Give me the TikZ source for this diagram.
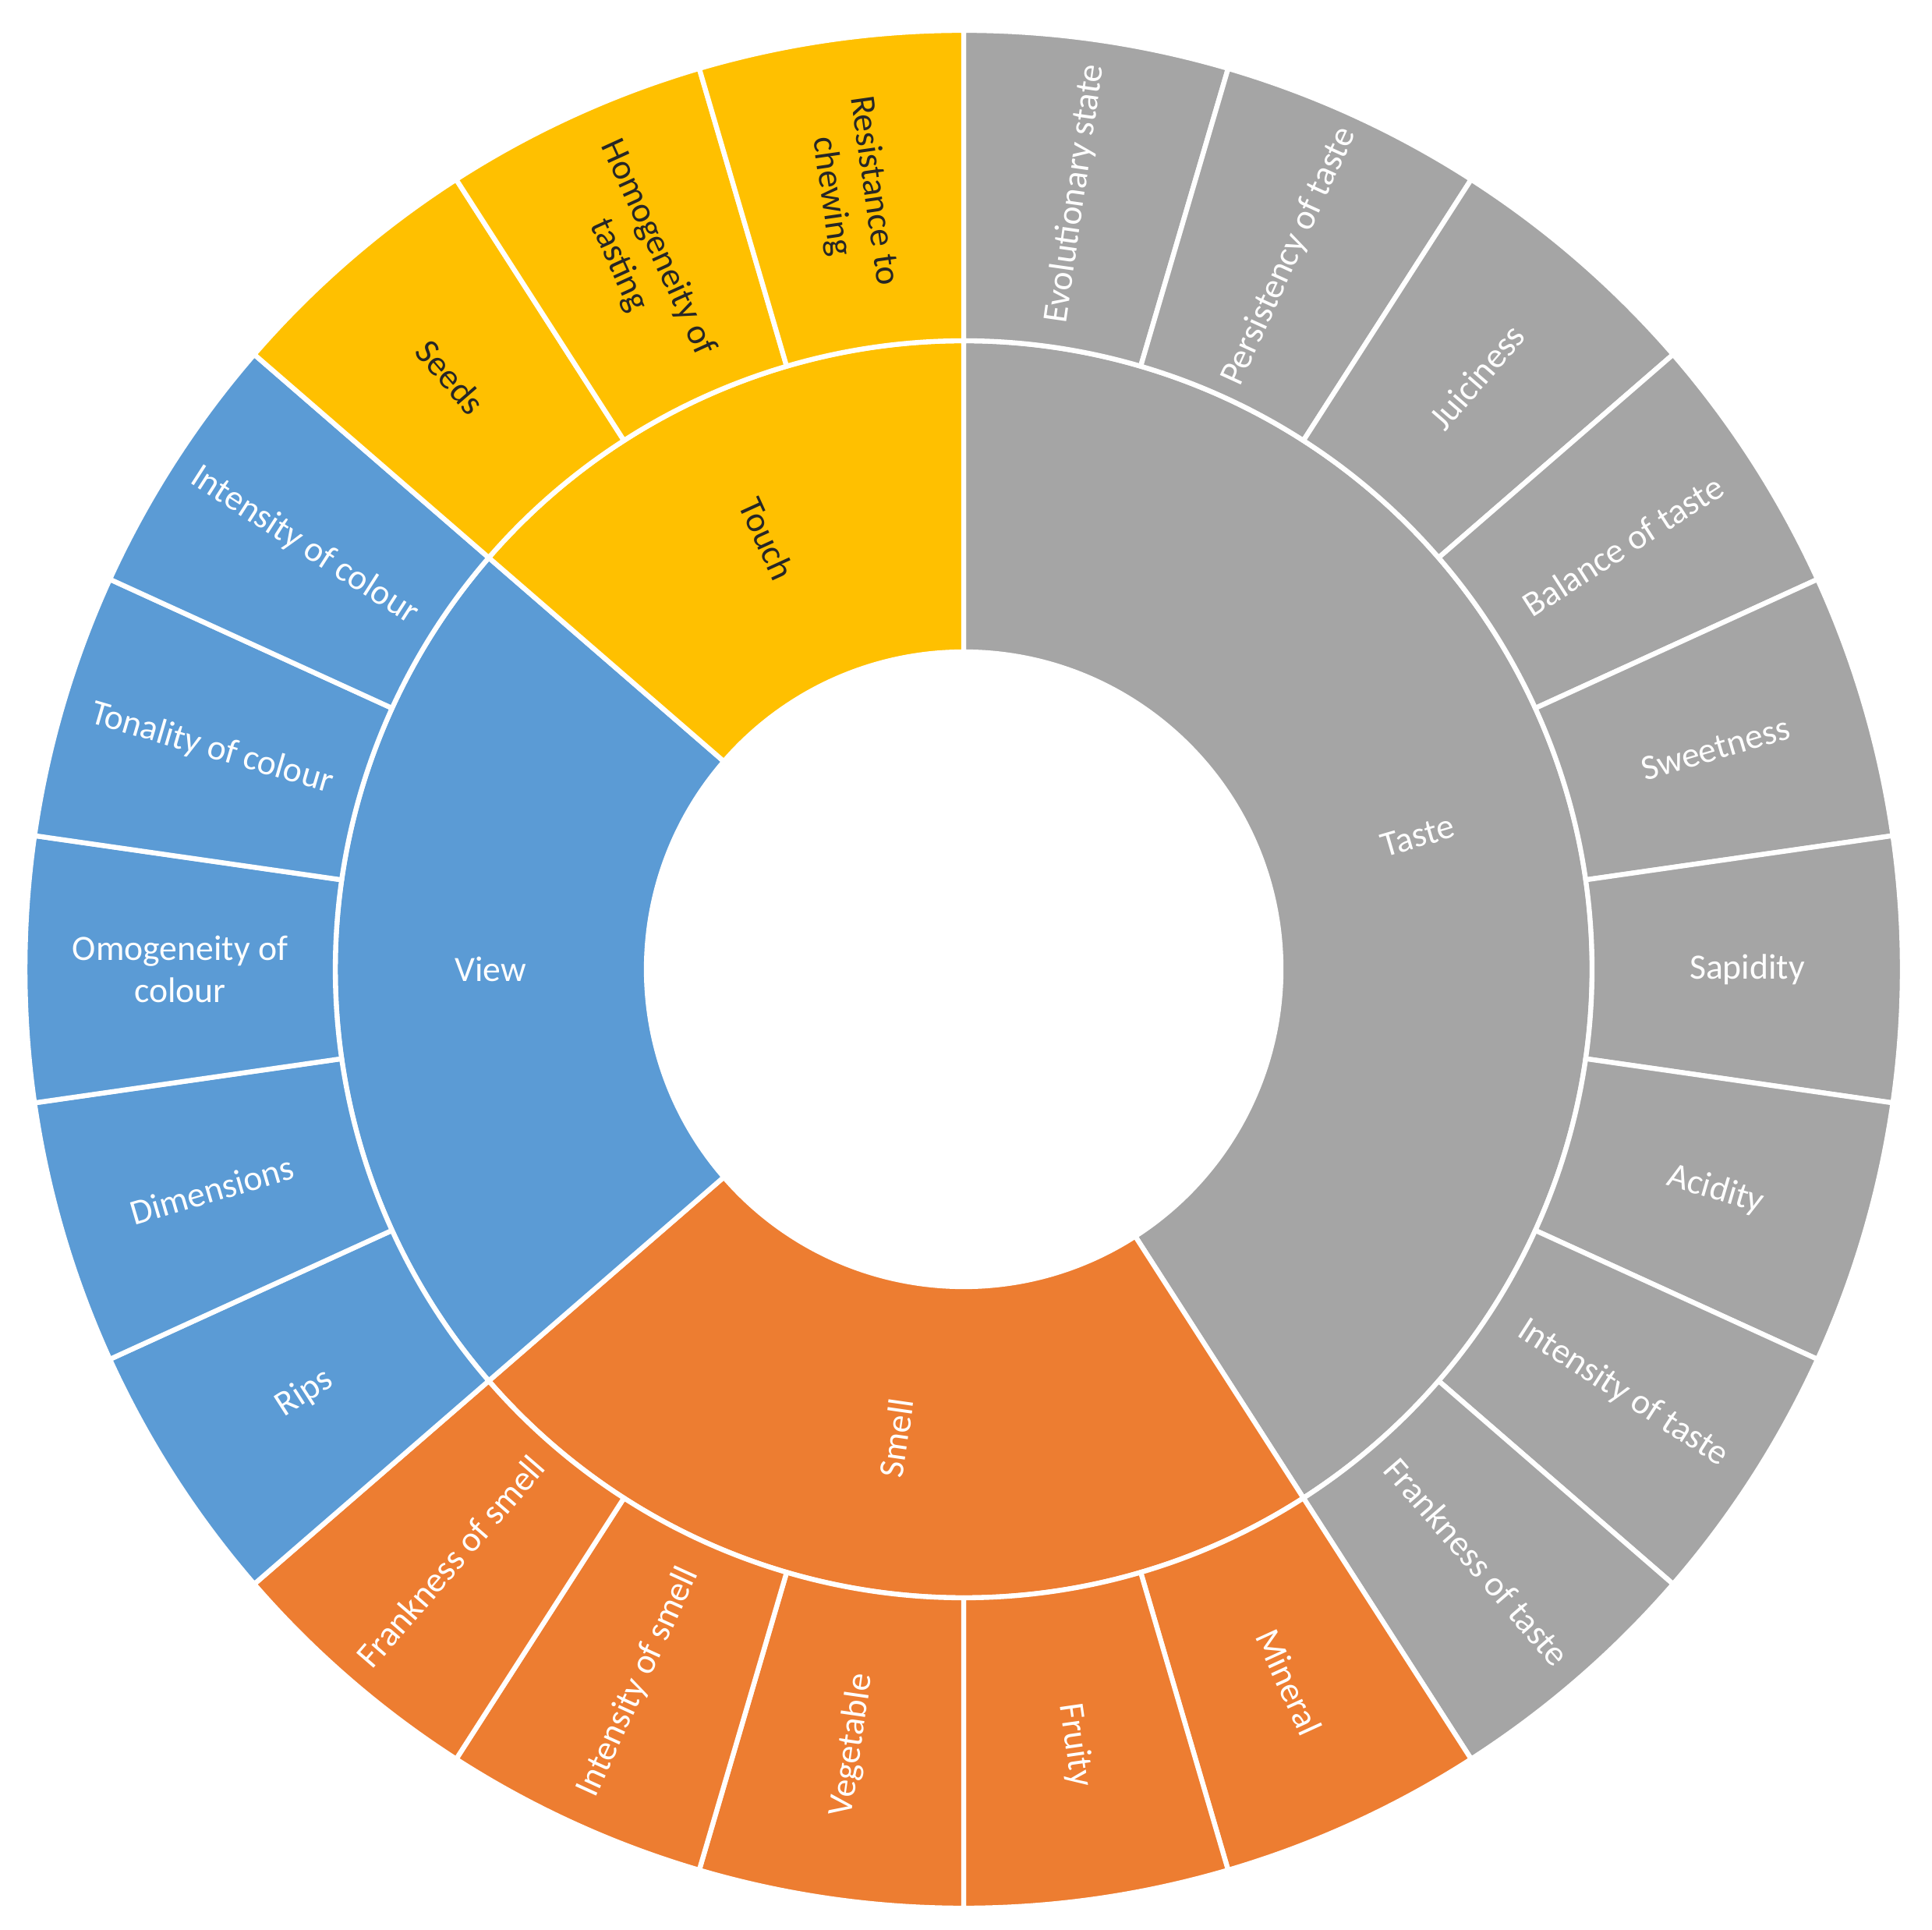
\documentclass[tikz,border=0pt]{standalone}
\usepackage{fontspec}
\setmainfont{Carlito}
\definecolor{taste}{HTML}{A5A5A5}
\definecolor{smell}{HTML}{ED7D31}
\definecolor{view}{HTML}{5B9BD5}
\definecolor{touch}{HTML}{FFC000}
\definecolor{darktxt}{HTML}{262626}
\begin{document}
\begin{tikzpicture}[
  seg/.style={draw=white, line width=1.8pt, line join=round},
  lbl/.style={font=\fontsize{13}{15.6}\selectfont, align=center, inner sep=0pt},
]
\useasboundingbox (0,0) rectangle (24.78,24.74);
\begin{scope}[shift={(12.36,12.31)}]
\def\Ra{4.07}\def\Rb{8.06}\def\Rc{12.04}\def\stp{16.363636}
% inner ring
\foreach \ss/\ee/\lab/\col/\tc in {0/9/Taste/taste/white, 9/14/Smell/smell/white, 14/19/View/view/white, 19/22/Touch/touch/darktxt}{
  \pgfmathsetmacro\aa{90-\ss*\stp}
  \pgfmathsetmacro\ab{90-\ee*\stp}
  \pgfmathsetmacro\am{(\aa+\ab)/2}
  \pgfmathsetmacro\rot{\am<-90 ? \am+180 : \am}
  \path[seg, fill=\col] (\aa:\Ra) arc[start angle=\aa, end angle=\ab, radius=\Ra] -- (\ab:\Rb) arc[start angle=\ab, end angle=\aa, radius=\Rb] -- cycle;
  \node[lbl, text=\tc, rotate=\rot] (I\ss) at (\am:6.07) {\lab};
}
% outer ring
\foreach \ss/\lab/\col/\tc in {
  0/{Evolutionary state}/taste/white,
  1/{Persistency of taste}/taste/white,
  2/{Juiciness}/taste/white,
  3/{Balance of taste}/taste/white,
  4/{Sweetness}/taste/white,
  5/{Sapidity}/taste/white,
  6/{Acidity}/taste/white,
  7/{Intensity of taste}/taste/white,
  8/{Frankness of taste}/taste/white,
  9/{Mineral}/smell/white,
  10/{Fruity}/smell/white,
  11/{Vegetable}/smell/white,
  12/{Intensity of smell}/smell/white,
  13/{Frankness of smell}/smell/white,
  14/{Rips}/view/white,
  15/{Dimensions}/view/white,
  16/{Omogeneity of\\colour}/view/white,
  17/{Tonality of colour}/view/white,
  18/{Intensity of colour}/view/white,
  19/{Seeds}/touch/darktxt,
  20/{Homogeneity of\\tasting}/touch/darktxt,
  21/{Resistance to\\chewing}/touch/darktxt}{
  \pgfmathsetmacro\aa{90-\ss*\stp}
  \pgfmathsetmacro\ab{90-(\ss+1)*\stp}
  \pgfmathsetmacro\am{(\aa+\ab)/2}
  \pgfmathsetmacro\rot{\am<-90 ? \am+180 : \am}
  \path[seg, fill=\col] (\aa:\Rb) arc[start angle=\aa, end angle=\ab, radius=\Rb] -- (\ab:\Rc) arc[start angle=\ab, end angle=\aa, radius=\Rc] -- cycle;
  \node[lbl, text=\tc, rotate=\rot] (O\ss) at (\am:10.05) {\lab};
}
\end{scope}
\end{tikzpicture}
\end{document}
